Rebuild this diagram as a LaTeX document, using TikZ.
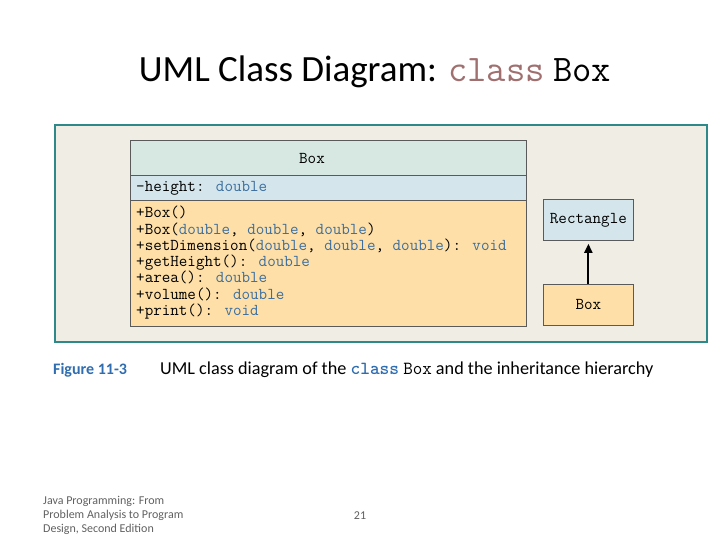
\documentclass[tikz,border=0pt]{standalone}
\usepackage{fontspec}
\setmainfont{Carlito}
\usetikzlibrary{positioning,arrows.meta}

\definecolor{framecol}{HTML}{2E8A8A}
\definecolor{paper}{HTML}{F0EEE4}
\definecolor{headcol}{HTML}{D6E8E1}
\definecolor{attrcol}{HTML}{D4E6EC}
\definecolor{methcol}{HTML}{FDDFA7}
\definecolor{edgecol}{HTML}{5A5A5A}
\definecolor{typeblue}{HTML}{3C6E9E}
\definecolor{figblue}{HTML}{2F6DB0}
\definecolor{classpink}{HTML}{A07070}
\definecolor{footgray}{HTML}{606060}

\newcommand{\dbl}{\textcolor{typeblue}{double}}
\newcommand{\vd}{\textcolor{typeblue}{void}}

\tikzset{
  compart/.style={draw=edgecol,line width=0.8pt,rectangle,inner sep=0pt,anchor=north west},
  code/.style={font=\ttfamily\fontsize{16.6}{18}\selectfont,inner sep=0pt,anchor=base west},
  inherit/.style={-{Triangle[length=9pt,width=8pt]},line width=2pt,shorten >=3pt}
}

\begin{document}
\begin{tikzpicture}[x=1pt,y=-1pt]
\useasboundingbox (0,0) rectangle (720,540);

% title
\node (title) at (375,72) {\fontsize{37}{40}\selectfont UML Class Diagram: {\ttfamily\fontsize{37.5}{40}\selectfont\color{classpink}class} {\ttfamily\fontsize{37.5}{40}\selectfont Box}};

% figure frame
\draw[framecol,line width=2.5pt,fill=paper] (55,125) rectangle (707,342);

% class Box
\node[compart,fill=headcol,minimum width=396pt,minimum height=35pt] (head) at (130,140) {};
\node[compart,fill=attrcol,minimum width=396pt,minimum height=25pt] (attr) at (130,175) {};
\node[compart,fill=methcol,minimum width=396pt,minimum height=126pt] (meth) at (130,200) {};
\node[code,anchor=base] (hname) at (312,164) {Box};
\node[code] (field) at (136,192) {-height: \dbl};
\foreach \i/\txt in {0/{+Box()},1/{+Box(\dbl, \dbl, \dbl)},2/{+setDimension(\dbl, \dbl, \dbl): \vd},3/{+getHeight(): \dbl},4/{+area(): \dbl},5/{+volume(): \dbl},6/{+print(): \vd}}
  \node[code] (m\i) at (136,218+16.2*\i) {\txt};

% hierarchy
\node[compart,fill=attrcol,minimum width=90pt,minimum height=41pt] (rect) at (543,199) {};
\node[code,anchor=center] (rectname) at (rect.center) {Rectangle};
\node[compart,fill=methcol,minimum width=90pt,minimum height=41pt] (sub) at (543,284) {};
\node[code,anchor=center] (subname) at (sub.center) {Box};
\draw[inherit] (sub.north) -- (rect.south);

% caption
\node[anchor=base west,inner sep=0pt,font=\fontsize{16}{20}\selectfont\bfseries,text=figblue] (fig) at (53,374) {Figure 11-3};
\node[anchor=base west,inner sep=0pt,font=\fontsize{18.2}{20}\selectfont] (cap) at (160,374) {UML class diagram of the {\ttfamily\bfseries\fontsize{18.5}{20}\selectfont\color{figblue}class} {\ttfamily\fontsize{18.5}{20}\selectfont Box} and the inheritance hierarchy};

% footer
\node[anchor=north west,inner sep=0pt,align=left,text=footgray,font=\fontsize{12}{14}\selectfont] (foot) at (43,496) {Java Programming: From\\Problem Analysis to Program\\Design, Second Edition};
\node[anchor=base,inner sep=0pt,text=footgray,font=\fontsize{12}{14}\selectfont] (page) at (360,519) {21};
\end{tikzpicture}
\end{document}
